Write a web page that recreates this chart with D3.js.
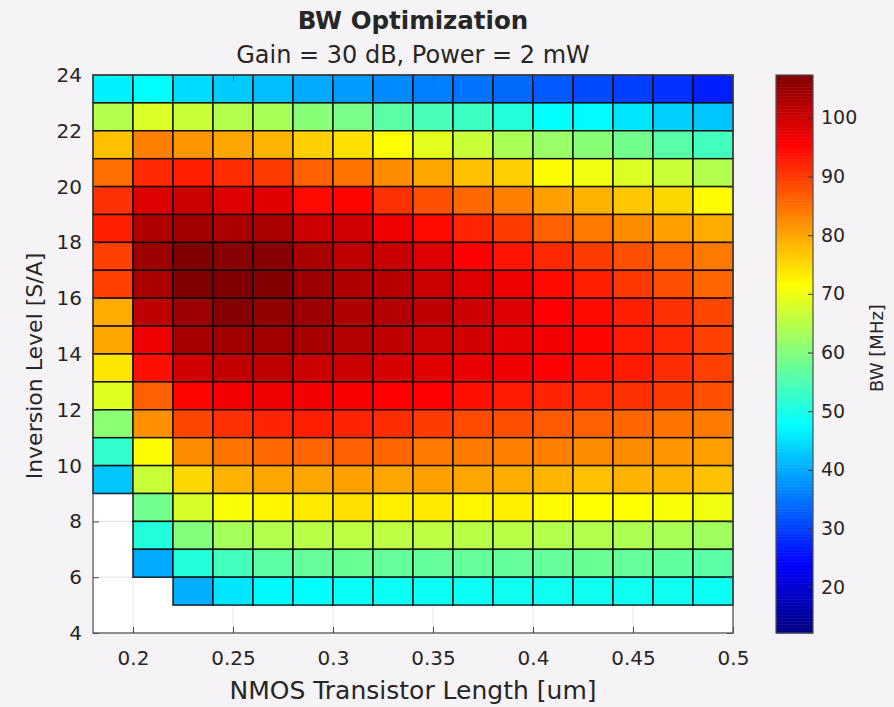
<!DOCTYPE html>
<html>
<head>
<meta charset="utf-8">
<script src="https://cdn.jsdelivr.net/npm/d3@7"></script>
<style>
  body { margin: 0; background: #f6f3f6; }
  svg { display: block; }
  text { fill: #262626; font-family: "DejaVu Sans", sans-serif; }
</style>
</head>
<body>
<svg id="chart" width="894" height="707"></svg>
<script>
// left edges of the columns (um) and bottom edges of the rows (S/A), top row first
const lengthUm = [0.18, 0.20, 0.22, 0.24, 0.26, 0.28, 0.30, 0.32, 0.34, 0.36, 0.38, 0.40, 0.42, 0.44, 0.46, 0.48]
const inversion = [23, 22, 21, 20, 19, 18, 17, 16, 15, 14, 13, 12, 11, 10, 9, 8, 7, 6, 5]

// BW [MHz], one row per inversion level (same order as above), null = no solution
const bw = [
  [46.5, 48.0, 44.6, 43.0, 41.8, 40.0, 38.5, 37.0, 36.0, 34.8, 34.0, 32.5, 31.0, 30.0, 28.7, 27.0],
  [64.5, 68.3, 66.5, 64.5, 63.7, 60.5, 59.0, 56.3, 54.5, 53.5, 51.0, 48.0, 47.6, 45.5, 43.5, 42.5],
  [77.5, 83.5, 81.4, 80.0, 78.5, 75.9, 74.4, 71.6, 69.0, 66.5, 63.7, 62.0, 60.5, 58.5, 56.0, 54.0],
  [85.2, 91.6, 92.6, 91.2, 89.8, 86.5, 84.7, 82.4, 80.0, 77.5, 75.9, 72.0, 70.2, 68.3, 66.5, 64.5],
  [90.8, 98.7, 100.1, 98.7, 98.2, 94.5, 95.0, 90.8, 88.0, 85.7, 83.5, 80.6, 78.8, 76.8, 75.4, 72.0],
  [92.6, 102.8, 104.2, 103.3, 103.3, 100.1, 99.6, 96.8, 94.5, 92.0, 89.8, 86.5, 84.2, 82.4, 80.6, 79.5],
  [89.4, 104.6, 107.3, 106.4, 106.4, 103.3, 101.5, 100.5, 98.7, 95.4, 93.5, 91.6, 89.8, 88.0, 86.0, 84.2],
  [89.4, 103.3, 107.3, 107.3, 107.0, 104.6, 102.8, 102.0, 100.1, 98.7, 96.8, 94.5, 92.6, 90.3, 88.0, 86.0],
  [79.5, 101.5, 104.6, 106.8, 105.5, 104.6, 102.8, 102.4, 101.5, 100.1, 98.7, 95.4, 94.5, 92.6, 90.8, 88.9],
  [80.0, 96.8, 103.7, 104.2, 104.2, 103.7, 102.4, 101.5, 100.1, 99.6, 97.7, 96.3, 95.0, 93.0, 91.6, 89.4],
  [73.9, 94.0, 99.6, 101.0, 101.5, 100.1, 100.1, 99.1, 98.2, 97.3, 96.8, 95.4, 94.0, 93.0, 91.2, 89.4],
  [68.8, 86.5, 95.0, 96.3, 96.8, 96.3, 95.8, 95.4, 95.4, 94.0, 93.0, 92.0, 91.6, 90.8, 89.8, 88.0],
  [61.0, 82.0, 88.9, 90.8, 92.0, 92.6, 92.0, 91.2, 89.8, 88.4, 88.0, 87.0, 86.5, 86.0, 84.7, 83.9],
  [52.5, 72.0, 82.4, 84.7, 85.7, 86.0, 86.5, 86.0, 83.9, 83.9, 83.5, 83.5, 82.4, 82.4, 81.4, 80.6],
  [42.5, 66.5, 75.4, 78.8, 80.0, 80.0, 80.6, 80.0, 80.6, 80.0, 79.2, 78.5, 77.5, 78.8, 78.5, 77.3],
  [null, 58.5, 67.8, 71.2, 72.5, 73.5, 74.4, 73.0, 73.5, 72.5, 73.0, 72.0, 71.6, 71.6, 71.2, 70.2],
  [null, 51.0, 60.0, 63.3, 64.5, 65.0, 65.5, 65.5, 65.5, 65.0, 65.0, 64.5, 64.5, 64.0, 63.7, 62.8],
  [null, 40.0, 51.0, 54.0, 56.3, 57.2, 57.6, 57.2, 57.2, 57.2, 57.2, 57.2, 57.6, 57.2, 56.7, 56.3],
  [null, null, 40.4, 45.5, 47.3, 48.0, 48.5, 48.8, 48.8, 48.8, 49.2, 49.2, 49.2, 49.2, 49.2, 48.8]
]

const xTicks = [0.2, 0.25, 0.3, 0.35, 0.4, 0.45, 0.5]
const yTicks = [4, 6, 8, 10, 12, 14, 16, 18, 20, 22, 24]
const cbarTicks = [20, 30, 40, 50, 60, 70, 80, 90, 100]
const colorRange = [12.2, 107.3]

const dx = lengthUm[1] - lengthUm[0]
const dy = inversion[0] - inversion[1]

const svg = d3.select('#chart')
const plot = { left: 93, right: 733, top: 75, bottom: 633 }

const x = d3.scaleLinear().domain([0.18, 0.5]).range([plot.left, plot.right])
const y = d3.scaleLinear().domain([4, 24]).range([plot.bottom, plot.top])

// MATLAB-style jet colormap
function jet (t) {
  const c = v => Math.max(0, Math.min(1, v))
  const r = c(1.5 - Math.abs(4 * t - 3))
  const g = c(1.5 - Math.abs(4 * t - 2))
  const b = c(1.5 - Math.abs(4 * t - 1))
  return d3.rgb(r * 255, g * 255, b * 255)
}
const color = d3.scaleSequential(jet).domain(colorRange)

// axes background
svg.append('rect')
  .attr('x', plot.left).attr('y', plot.top)
  .attr('width', plot.right - plot.left).attr('height', plot.bottom - plot.top)
  .attr('fill', '#fff')

// faint grid under the cells
const grid = svg.append('g').attr('stroke', '#e3e3e3').attr('stroke-width', 1)
grid.selectAll('line.gx').data(xTicks).join('line')
  .attr('x1', d => x(d)).attr('x2', d => x(d))
  .attr('y1', plot.top).attr('y2', plot.bottom)
grid.selectAll('line.gy').data(yTicks).join('line')
  .attr('y1', d => y(d)).attr('y2', d => y(d))
  .attr('x1', plot.left).attr('x2', plot.right)

// cells
const cells = []
inversion.forEach((lev, i) => {
  lengthUm.forEach((len, j) => {
    const v = bw[i][j]
    if (v !== null) cells.push({ len, lev, v })
  })
})

svg.append('g').selectAll('rect').data(cells).join('rect')
  .attr('x', d => x(d.len))
  .attr('y', d => y(d.lev + dy))
  .attr('width', d => x(d.len + dx) - x(d.len))
  .attr('height', d => y(d.lev) - y(d.lev + dy))
  .attr('fill', d => color(d.v))
  .attr('stroke', '#000')
  .attr('stroke-opacity', 0.85)
  .attr('stroke-width', 1.5)

// axes
const axisColor = '#4d4d4d'
const tickFont = 20
const xAxis = svg.append('g').attr('transform', `translate(0,${plot.bottom})`)
  .call(d3.axisBottom(x).tickValues(xTicks).tickSize(-6).tickPadding(18).tickFormat(d3.format('')))
const yAxis = svg.append('g').attr('transform', `translate(${plot.left},0)`)
  .call(d3.axisLeft(y).tickValues(yTicks).tickSize(-6).tickPadding(11))
;[xAxis, yAxis].forEach(a => {
  a.select('.domain').remove()
  a.selectAll('line').attr('stroke', axisColor)
  a.selectAll('text').attr('font-size', tickFont).attr('fill', '#333')
    .attr('font-family', '"DejaVu Sans", sans-serif')
})
// top and right ticks, like a boxed MATLAB axes
svg.append('g').attr('transform', `translate(0,${plot.top})`)
  .call(d3.axisTop(x).tickValues(xTicks).tickSize(-6).tickFormat(''))
  .call(g => g.select('.domain').remove())
  .selectAll('line').attr('stroke', axisColor)
svg.append('g').attr('transform', `translate(${plot.right},0)`)
  .call(d3.axisRight(y).tickValues(yTicks).tickSize(-6).tickFormat(''))
  .call(g => g.select('.domain').remove())
  .selectAll('line').attr('stroke', axisColor)

svg.append('rect')
  .attr('x', plot.left).attr('y', plot.top)
  .attr('width', plot.right - plot.left).attr('height', plot.bottom - plot.top)
  .attr('fill', 'none').attr('stroke', axisColor).attr('stroke-width', 1.2)

// labels
svg.append('text')
  .attr('x', (plot.left + plot.right) / 2).attr('y', 699)
  .attr('text-anchor', 'middle').attr('font-size', 25).attr('fill', '#333')
  .text('NMOS Transistor Length [um]')
svg.append('text')
  .attr('transform', 'translate(42,366) rotate(-90)')
  .attr('text-anchor', 'middle').attr('font-size', 22).attr('fill', '#333')
  .text('Inversion Level [S/A]')
svg.append('text')
  .attr('x', (plot.left + plot.right) / 2).attr('y', 29)
  .attr('text-anchor', 'middle').attr('font-size', 24.5).attr('font-weight', 'bold')
  .attr('fill', '#000')
  .text('BW Optimization')
svg.append('text')
  .attr('x', (plot.left + plot.right) / 2).attr('y', 63)
  .attr('text-anchor', 'middle').attr('font-size', 24)
  .attr('fill', '#000')
  .text('Gain = 30 dB, Power = 2 mW')

// colorbar
const cb = { left: 776, right: 813, top: 75, bottom: 633 }
const cy = d3.scaleLinear().domain(colorRange).range([cb.bottom, cb.top])
const steps = d3.range(colorRange[0], colorRange[1], 0.25)
svg.append('g').selectAll('rect').data(steps).join('rect')
  .attr('x', cb.left).attr('width', cb.right - cb.left)
  .attr('y', d => cy(Math.min(d + 0.25, colorRange[1])))
  .attr('height', d => cy(d) - cy(Math.min(d + 0.25, colorRange[1])) + 0.5)
  .attr('fill', d => color(d + 0.125))
const cAxis = svg.append('g').attr('transform', `translate(${cb.right},0)`)
  .call(d3.axisRight(cy).tickValues(cbarTicks).tickSize(-5).tickPadding(8))
cAxis.select('.domain').remove()
cAxis.selectAll('line').attr('stroke', '#333')
cAxis.selectAll('text').attr('font-size', 19).attr('fill', '#333')
  .attr('font-family', '"DejaVu Sans", sans-serif')
svg.append('rect')
  .attr('x', cb.left).attr('y', cb.top)
  .attr('width', cb.right - cb.left).attr('height', cb.bottom - cb.top)
  .attr('fill', 'none').attr('stroke', axisColor).attr('stroke-width', 1.2)
svg.append('text')
  .attr('transform', 'translate(883,348) rotate(-90)')
  .attr('text-anchor', 'middle').attr('font-size', 18).attr('fill', '#333')
  .text('BW [MHz]')
</script>
</body>
</html>
